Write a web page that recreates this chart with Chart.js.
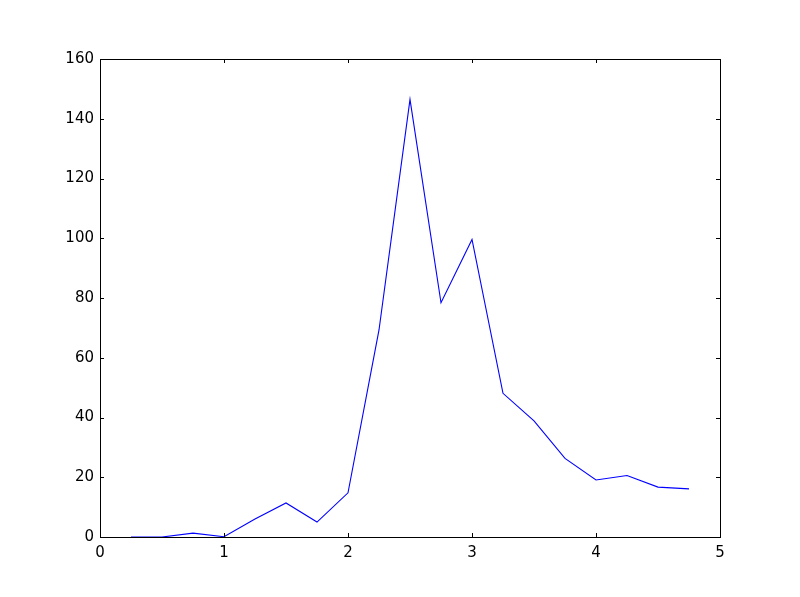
<!DOCTYPE html>
<html>
<head>
<meta charset="utf-8">
<script src="https://cdn.jsdelivr.net/npm/chart.js@4/dist/chart.umd.min.js"></script>
<style>
  html, body { margin: 0; padding: 0; background: #fff; }
  #wrap { width: 800px; height: 597px; }
</style>
</head>
<body>
<div id="wrap"><canvas id="myChart"></canvas></div>
<script>
const xValues = [0.25, 0.5, 0.75, 1.0, 1.25, 1.5, 1.75, 2.0, 2.25, 2.5, 2.75, 3.0, 3.25, 3.5, 3.75, 4.0, 4.25, 4.5, 4.75];
const yValues = [0, 0, 1.3, 0.1, 6.0, 11.4, 5.0, 14.8, 69.3, 146.5, 78.4, 99.6, 48.1, 38.9, 26.3, 19.1, 20.6, 16.7, 16.1];
const xTicks = [0, 1, 2, 3, 4, 5];
const yTicks = [0, 20, 40, 60, 80, 100, 120, 140, 160];

// frame and inward tick marks on all four sides, like matplotlib classic
const frame = {
  id: 'frame',
  afterDraw(chart) {
    const { ctx, chartArea: a, scales } = chart;
    ctx.save();
    ctx.strokeStyle = '#000';
    ctx.lineWidth = 1;
    ctx.beginPath();
    xTicks.forEach(v => {
      const x = Math.round(scales.x.getPixelForValue(v)) + 0.5;
      ctx.moveTo(x, a.bottom); ctx.lineTo(x, a.bottom - 4);
      ctx.moveTo(x, a.top); ctx.lineTo(x, a.top + 4);
    });
    yTicks.forEach(v => {
      const y = Math.round(scales.y.getPixelForValue(v)) + 0.5;
      ctx.moveTo(a.left, y); ctx.lineTo(a.left + 4, y);
      ctx.moveTo(a.right, y); ctx.lineTo(a.right - 4, y);
    });
    ctx.stroke();
    ctx.strokeRect(Math.round(a.left) + 0.5, Math.round(a.top) + 0.5,
      Math.round(a.right - a.left), Math.round(a.bottom - a.top));
    ctx.restore();
  }
};

const font = { family: 'DejaVu Sans', size: 15 };

const config = {
  type: 'line',
  data: {
    datasets: [{
      data: xValues.map((x, i) => ({ x: x, y: yValues[i] })),
      borderColor: '#0000ff',
      borderWidth: 1.1,
      pointRadius: 0,
      fill: false,
      tension: 0
    }]
  },
  options: {
    responsive: true,
    maintainAspectRatio: false,
    animation: false,
    layout: { padding: { left: 0, right: 80, top: 59, bottom: 0 } },
    plugins: {
      legend: { display: false },
      tooltip: { enabled: false }
    },
    scales: {
      x: {
        type: 'linear',
        min: 0,
        max: 5,
        afterFit(scale) { scale.height = 60; },
        afterBuildTicks(scale) { scale.ticks = xTicks.map(v => ({ value: v })); },
        grid: { display: false, drawTicks: false },
        border: { display: false },
        ticks: { color: '#000', font: font, padding: 7, maxRotation: 0 }
      },
      y: {
        min: 0,
        max: 160,
        afterFit(scale) { scale.width = 100; },
        afterBuildTicks(scale) { scale.ticks = yTicks.map(v => ({ value: v })); },
        grid: { display: false, drawTicks: false },
        border: { display: false },
        ticks: { color: '#000', font: font, padding: 6 }
      }
    }
  },
  plugins: [frame]
};

const wrapper = document.querySelector('#myChart');
const myChart = new Chart(wrapper, config);
</script>
</body>
</html>
